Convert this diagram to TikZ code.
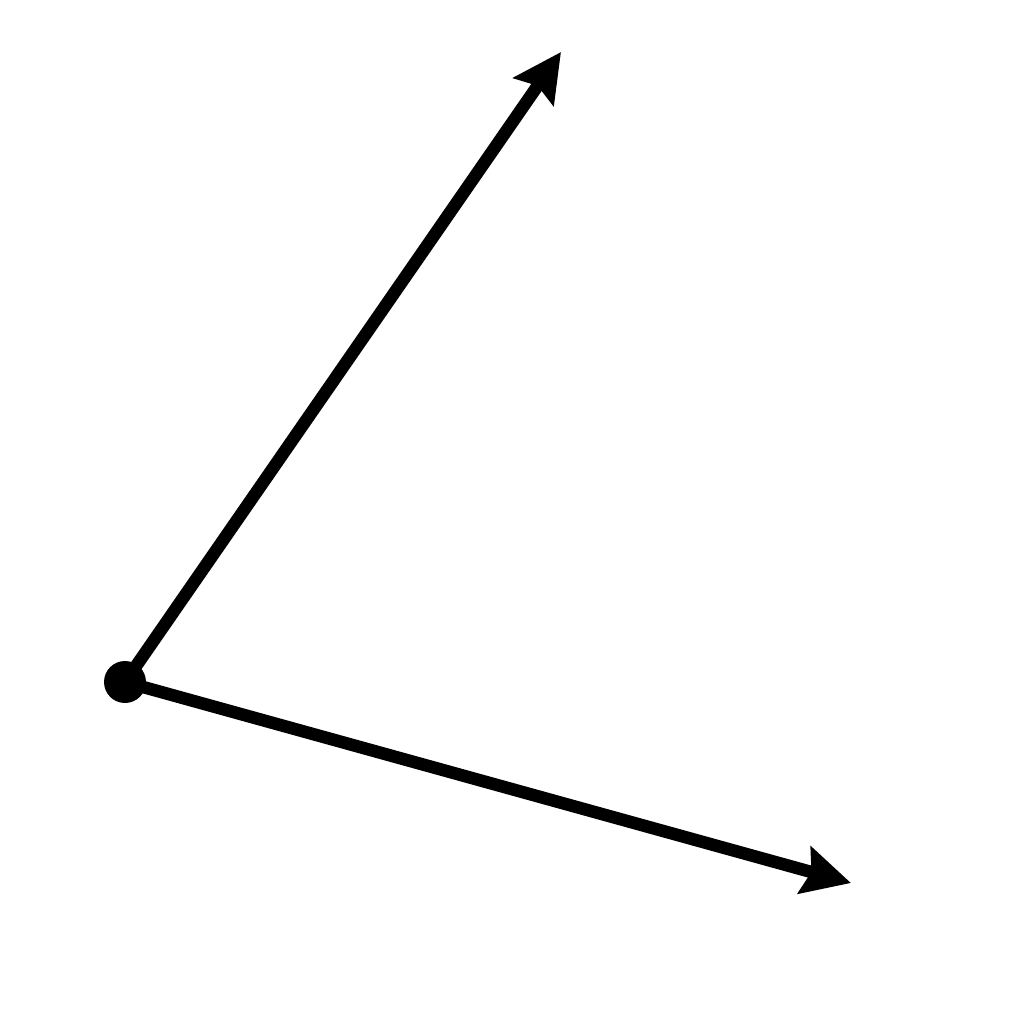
\documentclass[tikz,border=0pt]{standalone}
\usetikzlibrary{arrows.meta}
\begin{document}
\begin{tikzpicture}[x=0.01cm,y=-0.01cm,
  ray/.style={line width=0.125cm,-{Stealth[length=0.48cm,width=0.48cm,inset=0.07cm]}}]
\useasboundingbox (0,0) rectangle (1024,1024);
\fill[white] (0,0) rectangle (1024,1024);
\coordinate (o) at (125,682);
\coordinate (a) at (561,52);
\coordinate (b) at (851,883);
\draw[ray] (o) -- (a);
\draw[ray] (o) -- (b);
\fill (o) circle (21);
\end{tikzpicture}
\end{document}
